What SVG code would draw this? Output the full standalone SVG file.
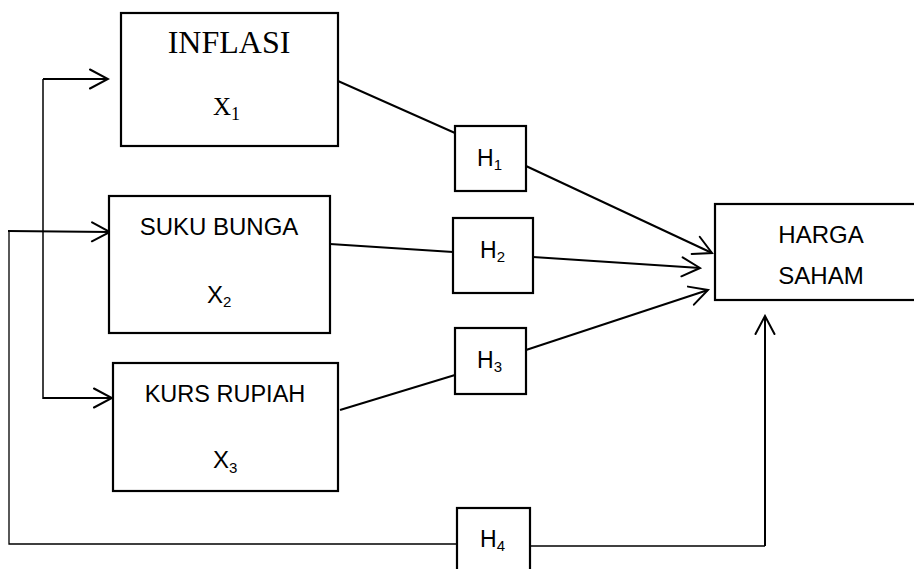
<svg xmlns="http://www.w3.org/2000/svg" width="914" height="569" viewBox="0 0 914 569">
<style>
.box{fill:#fff;stroke:#000;stroke-width:2.2}
.ln{fill:none;stroke:#000;stroke-width:2}
.thin{fill:none;stroke:#000;stroke-width:1.3}
.serif{font-family:"Liberation Serif","Times New Roman",serif;fill:#000}
.sans{font-family:"Liberation Sans",Arial,sans-serif;fill:#000}
</style>
<defs>
<marker id="arr" viewBox="-20 -11 22 22" markerWidth="22" markerHeight="22" refX="0" refY="0" markerUnits="userSpaceOnUse" orient="auto">
<path d="M-18,-9.5 L0,0 L-18,9.5" fill="none" stroke="#000" stroke-width="2" stroke-linecap="round" stroke-linejoin="miter"/>
</marker>
</defs>
<rect width="914" height="569" fill="#fff"/>
<g id="connectors">
<path class="thin" d="M43,79 V399" style="stroke-width:1.5"/>
<path class="ln" d="M43,79 H108" marker-end="url(#arr)"/>
<path class="ln" d="M43,398 H112" marker-end="url(#arr)"/>
<path class="ln" d="M8,231 L110,232" marker-end="url(#arr)"/>
<path class="thin" d="M9,231 V544 H457"/>
<path class="thin" d="M530,546 H765"/>
<path class="ln" d="M765,546 V316" marker-end="url(#arr)"/>
<path class="ln" d="M338,81 L455,133"/>
<path class="ln" d="M526,166 L712,253" marker-end="url(#arr)"/>
<path class="ln" d="M330,244 L453,252"/>
<path class="ln" d="M533,257 L700,268" marker-end="url(#arr)"/>
<path class="ln" d="M340,410 L455,375"/>
<path class="ln" d="M526,350 L708,290" marker-end="url(#arr)"/>
</g>
<g id="inflasi">
<rect class="box" x="121" y="13" width="217" height="133"/>
<text class="serif" x="229" y="53" font-size="32" text-anchor="middle">INFLASI</text>
<text class="serif" x="213" y="115" font-size="25">X<tspan font-size="18" dy="5">1</tspan></text>
</g>
<g id="suku-bunga">
<rect class="box" x="109" y="196" width="221" height="137"/>
<text class="sans" x="219" y="235" font-size="24" text-anchor="middle">SUKU BUNGA</text>
<text class="sans" x="207" y="303" font-size="24">X<tspan font-size="15" dy="4">2</tspan></text>
</g>
<g id="kurs-rupiah">
<rect class="box" x="113" y="363" width="225" height="128"/>
<text class="sans" x="225" y="402" font-size="23.5" text-anchor="middle">KURS RUPIAH</text>
<text class="sans" x="213" y="468" font-size="24">X<tspan font-size="15" dy="5">3</tspan></text>
</g>
<g id="h1">
<rect class="box" x="455" y="126" width="71" height="65"/>
<text class="sans" x="477" y="166" font-size="23">H<tspan font-size="15" dy="4">1</tspan></text>
</g>
<g id="h2">
<rect class="box" x="453" y="218" width="80" height="75"/>
<text class="sans" x="480" y="258" font-size="23">H<tspan font-size="15" dy="4">2</tspan></text>
</g>
<g id="h3">
<rect class="box" x="455" y="328" width="71" height="66"/>
<text class="sans" x="477" y="368" font-size="23">H<tspan font-size="15" dy="4">3</tspan></text>
</g>
<g id="h4">
<rect class="box" x="457" y="508" width="73" height="80"/>
<text class="sans" x="480" y="547" font-size="23">H<tspan font-size="15" dy="4">4</tspan></text>
</g>
<g id="harga-saham">
<rect class="box" x="715" y="204" width="215" height="96"/>
<text class="sans" x="821" y="243" font-size="24" text-anchor="middle">HARGA</text>
<text class="sans" x="821" y="284" font-size="24" text-anchor="middle">SAHAM</text>
</g>
</svg>
